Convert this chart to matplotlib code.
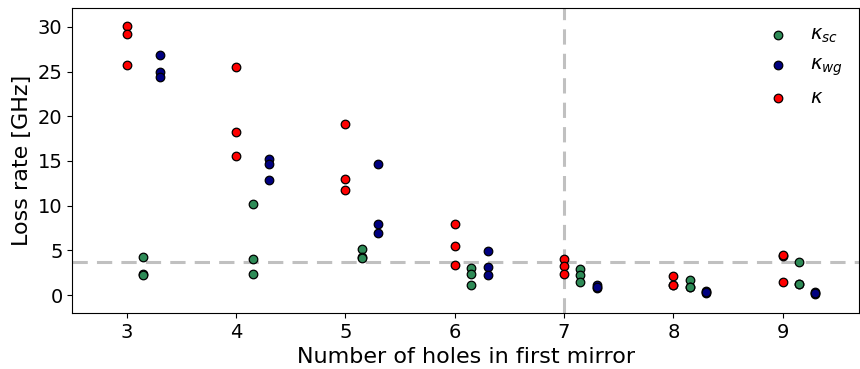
import matplotlib
matplotlib.use("Agg")
import matplotlib.pyplot as plt
import numpy as np

holes = [3, 4, 5, 6, 7, 8, 9]

# kappa (total) values per hole count
kappa = [[30.1, 29.2, 25.7], [25.5, 18.25, 15.6], [19.1, 12.95, 11.75],
         [7.9, 5.5, 3.4], [4.07, 3.25, 2.35], [2.16, 1.08, 1.08], [4.4, 4.5, 1.46]]
# kappa_sc values
kappa_sc = [[4.3, 2.4, 2.2], [10.2, 4.03, 2.3], [5.15, 4.2, 4.18],
            [3.0, 2.4, 1.1], [2.87, 2.2, 1.5], [1.64, 0.86, 0.86], [3.73, 1.23, 1.23]]
# kappa_wg values
kappa_wg = [[26.9, 24.9, 24.4], [15.2, 14.7, 12.9], [14.7, 8.0, 6.94],
            [4.9, 3.1, 2.2], [1.08, 0.78, 0.9], [0.49, 0.19, 0.3], [0.34, 0.15, 0.2]]

hline_value = 3.7
vline_value = 7

fig = plt.figure(figsize=(8.6, 3.69), dpi=100)
ax = fig.add_axes([0.084, 0.152, 0.915, 0.826])

ax.axhline(hline_value, color="#c0c0c0", ls="--", lw=2.2, dashes=(5, 3), zorder=1)
ax.axvline(vline_value, color="#c0c0c0", ls="--", lw=2.2, dashes=(5, 3), zorder=1)

def flat(xs, offset, vals):
    x = []
    y = []
    for h, v in zip(xs, vals):
        for val in v:
            x.append(h + offset)
            y.append(val)
    return x, y

x, y = flat(holes, 0.15, kappa_sc)
ax.scatter(x, y, s=38, color="seagreen", edgecolor="black", linewidth=0.9, zorder=3, label=r"$\kappa_{sc}$")
x, y = flat(holes, 0.3, kappa_wg)
ax.scatter(x, y, s=38, color="navy", edgecolor="black", linewidth=0.9, zorder=3, label=r"$\kappa_{wg}$")
x, y = flat(holes, 0.0, kappa)
ax.scatter(x, y, s=38, color="red", edgecolor="black", linewidth=0.9, zorder=3, label=r"$\kappa$")

ax.set_xlim(2.5, 9.7)
ax.set_ylim(-2.0, 32.1)
ax.set_xticks(holes)
ax.set_yticks([0, 5, 10, 15, 20, 25, 30])
ax.tick_params(labelsize=14)
ax.set_xlabel("Number of holes in first mirror", fontsize=16)
ax.set_ylabel("Loss rate [GHz]", fontsize=16)
ax.legend(loc="upper right", frameon=False, fontsize=14, handletextpad=0.65,
          borderaxespad=0.45, labelspacing=0.5)

fig.savefig("out.png", dpi=100)
